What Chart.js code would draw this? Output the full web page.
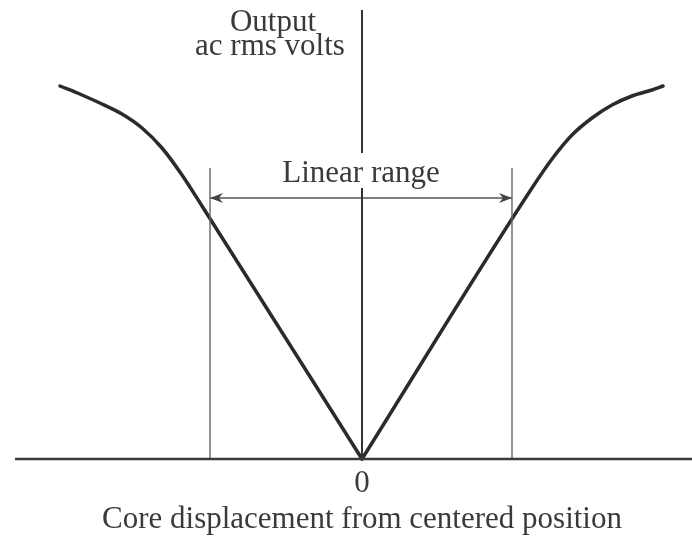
<!DOCTYPE html>
<html>
<head>
<meta charset="utf-8">
<script src="https://cdn.jsdelivr.net/npm/chart.js@4/dist/chart.umd.min.js"></script>
<style>
  html, body { margin: 0; padding: 0; background: #fff; }
  #wrap { width: 692px; height: 537px; }
</style>
</head>
<body>
<div id="wrap"><canvas id="myChart" width="692" height="537"></canvas></div>
<script>
// output curve (left half / right half), displacement vs ac rms volts (arbitrary units)
var leftX  = [-3.02, -2.8, -2.6, -2.4, -2.2, -2.0, -1.8, -1.6, 0];
var leftY  = [3.73, 3.64, 3.55, 3.45, 3.31, 3.11, 2.84, 2.53, 0];
var rightX = [0, 1.7, 1.9, 2.1, 2.3, 2.5, 2.7, 2.9, 3.01];
var rightY = [0, 2.71, 3.00, 3.24, 3.41, 3.54, 3.63, 3.69, 3.73];

// linear range limits and arrow height
var rangeX = [-1.52, 1.50];
var rangeTop = 2.91;
var arrowY = 2.61;

// axis extents (vertical axis is broken behind the "Linear range" label)
var xAxisEnds = [-3.47, 3.30];
var yAxisLow = [0, 2.71];
var yAxisHigh = [3.06, 4.49];

var xMin = -3.62, xMax = 3.30, yMin = -0.3, yMax = 4.59;

var tickLabels = ['0'];
var xTitle = 'Core displacement from centered position';
var yTitle = ['Output', 'ac rms volts'];
var rangeLabel = 'Linear range';

function pts(xs, ys) {
  return xs.map(function (x, i) { return { x: x, y: ys[i] }; });
}

// barbed arrowhead image, tip at the image centre, pointing right
function arrowHead() {
  var c = document.createElement('canvas');
  c.width = 28; c.height = 12;
  var g = c.getContext('2d');
  g.fillStyle = '#444';
  g.beginPath();
  g.moveTo(14, 6);
  g.lineTo(1, 1);
  g.lineTo(5, 6);
  g.lineTo(1, 11);
  g.closePath();
  g.fill();
  return c;
}
var head = arrowHead();

var textPlugin = {
  id: 'texts',
  afterDraw: function (chart) {
    var ctx = chart.ctx;
    var xs = chart.scales.x, ys = chart.scales.y;
    var x0 = xs.getPixelForValue(0), y0 = ys.getPixelForValue(0);
    ctx.save();
    ctx.fillStyle = '#3a3a3a';
    ctx.font = '31px "Liberation Serif", "Times New Roman", serif';
    ctx.textAlign = 'center';
    ctx.textBaseline = 'alphabetic';
    ctx.fillText(yTitle[0], x0 - 89, 31);
    ctx.fillText(yTitle[1], x0 - 92, 55);
    ctx.fillText(rangeLabel, xs.getPixelForValue((rangeX[0] + rangeX[1]) / 2), ys.getPixelForValue(arrowY) - 16);
    ctx.fillText(tickLabels[0], x0, y0 + 33);
    ctx.fillText(xTitle, x0, y0 + 69);
    ctx.restore();
  }
};

function seg(x1, y1, x2, y2, color, width) {
  return {
    data: [{ x: x1, y: y1 }, { x: x2, y: y2 }],
    showLine: true, borderColor: color, borderWidth: width, pointRadius: 0, clip: false
  };
}

var ctx = document.getElementById('myChart').getContext('2d');
var myChart = new Chart(ctx, {
  type: 'scatter',
  data: {
    datasets: [
      seg(xAxisEnds[0], 0, xAxisEnds[1], 0, '#3a3a3a', 2.5),
      seg(0, yAxisLow[0], 0, yAxisLow[1], '#333', 2),
      seg(0, yAxisHigh[0], 0, yAxisHigh[1], '#333', 2),
      seg(rangeX[0], 0, rangeX[0], rangeTop, '#666', 1.4),
      seg(rangeX[1], 0, rangeX[1], rangeTop, '#666', 1.4),
      { // arrow shaft + heads
        data: [{ x: rangeX[0], y: arrowY }, { x: rangeX[1], y: arrowY }],
        showLine: true, borderColor: '#555', borderWidth: 1.4,
        pointStyle: head, pointRotation: [180, 0], pointRadius: 6
      },
      {
        data: pts(leftX, leftY),
        showLine: true, borderColor: '#2b2b2b', borderWidth: 3.5, pointRadius: 0,
        cubicInterpolationMode: 'monotone', borderCapStyle: 'round'
      },
      {
        data: pts(rightX, rightY),
        showLine: true, borderColor: '#2b2b2b', borderWidth: 3.5, pointRadius: 0,
        cubicInterpolationMode: 'monotone', borderCapStyle: 'round'
      }
    ]
  },
  options: {
    responsive: false,
    animation: false,
    layout: { autoPadding: false, padding: { left: 0, right: 0, top: 0, bottom: 48 } },
    plugins: { legend: { display: false }, tooltip: { enabled: false } },
    scales: {
      x: { type: 'linear', min: xMin, max: xMax, display: false },
      y: { type: 'linear', min: yMin, max: yMax, display: false }
    }
  },
  plugins: [textPlugin]
});
</script>
</body>
</html>
